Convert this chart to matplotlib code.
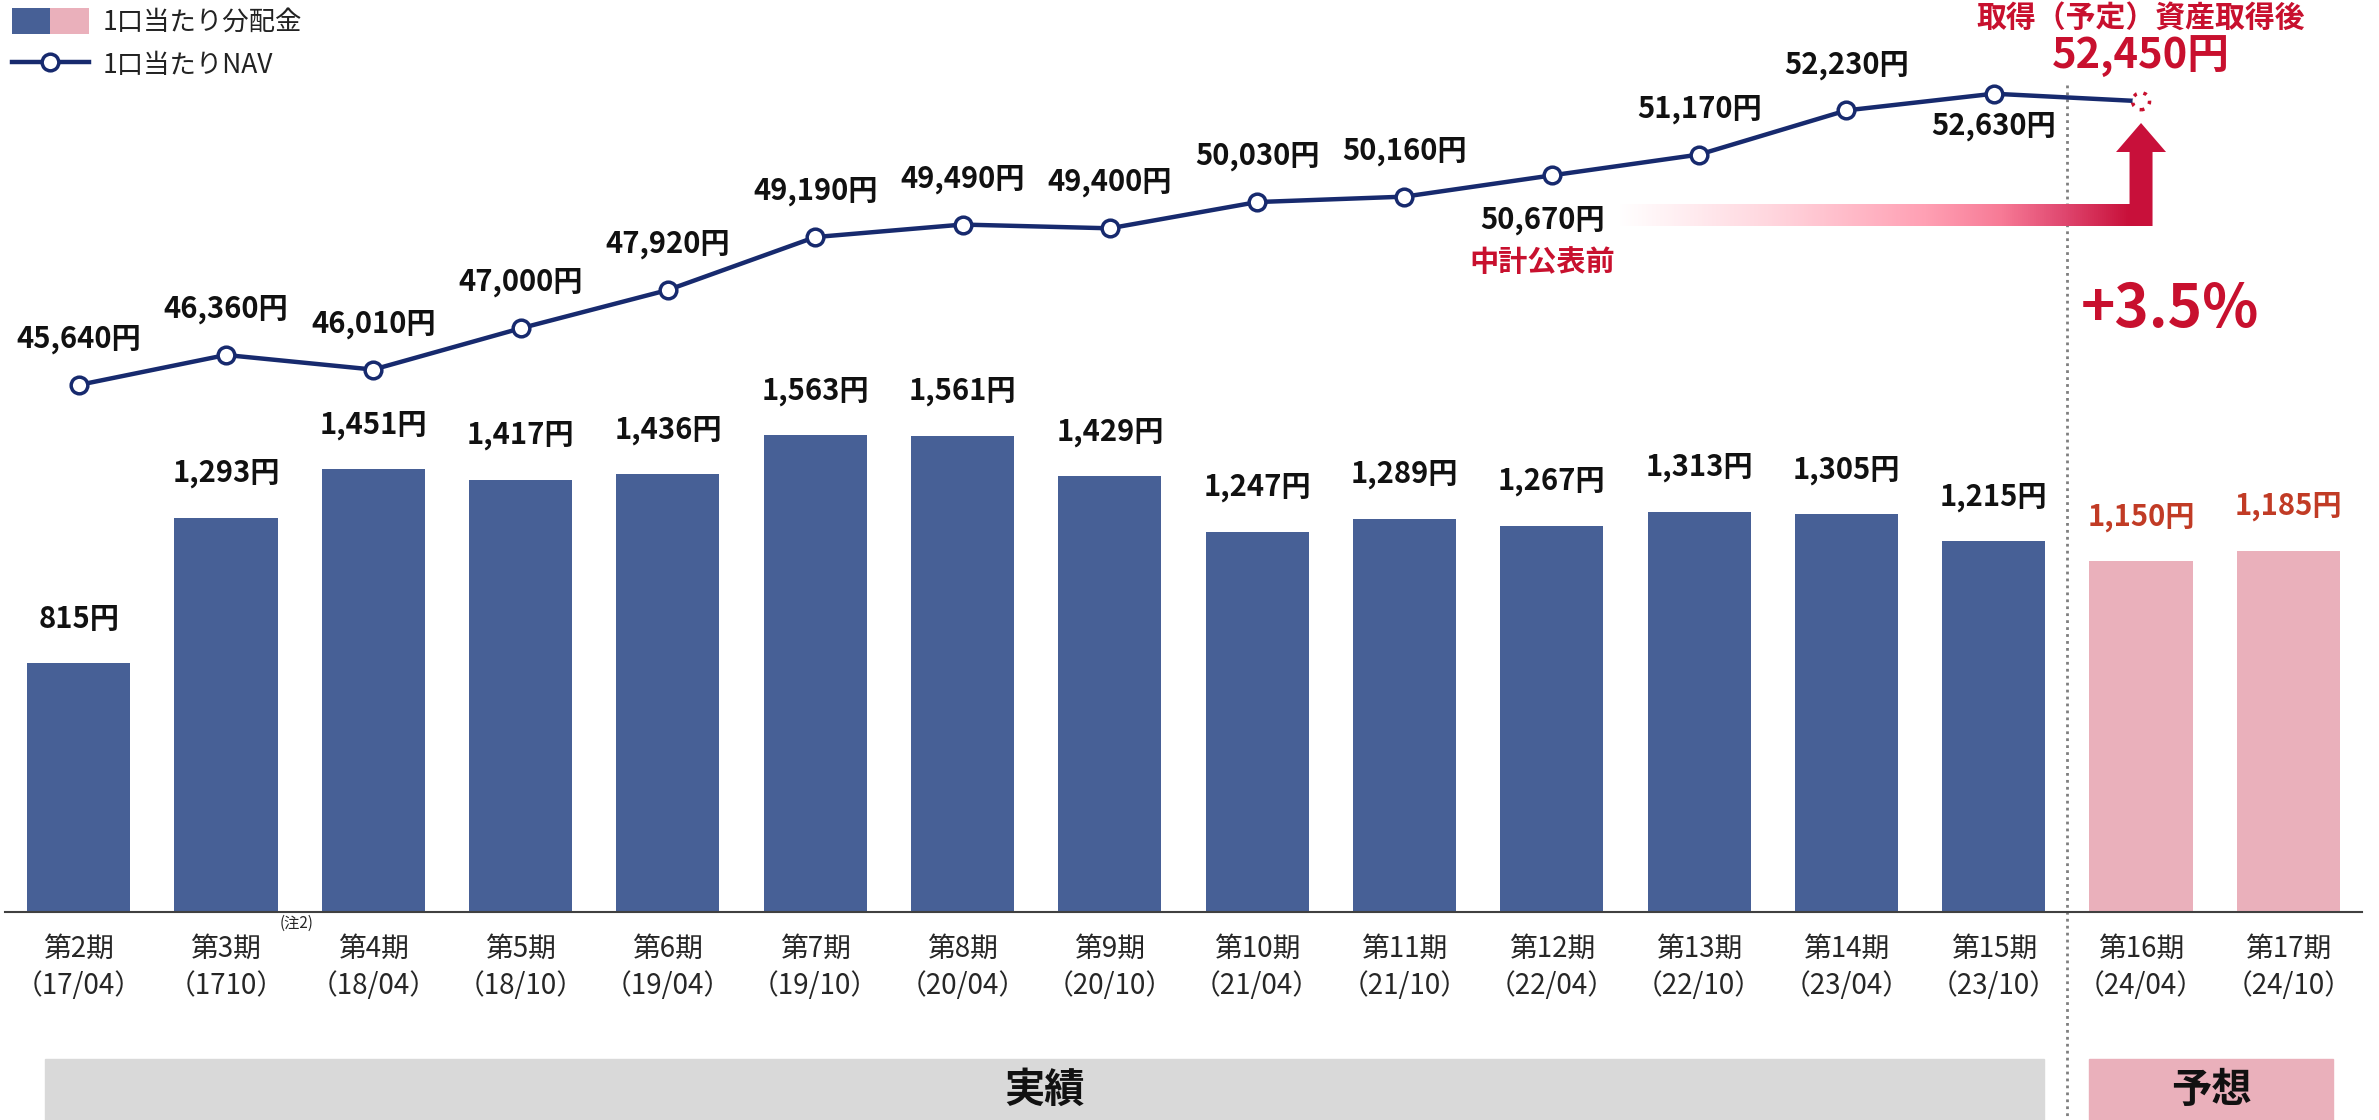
import matplotlib
matplotlib.use('Agg')
import matplotlib.pyplot as plt
import numpy as np
from matplotlib.patches import Patch, Polygon, Rectangle
from matplotlib.lines import Line2D
from matplotlib.legend_handler import HandlerTuple
from matplotlib.colors import LinearSegmentedColormap

plt.rcParams['font.family'] = ['Noto Sans CJK JP', 'DejaVu Sans']

# data
periods = ['第2期', '第3期', '第4期', '第5期', '第6期', '第7期', '第8期', '第9期',
           '第10期', '第11期', '第12期', '第13期', '第14期', '第15期', '第16期', '第17期']
dates = ['（17/04）', '（1710）', '（18/04）', '（18/10）', '（19/04）', '（19/10）', '（20/04）',
         '（20/10）', '（21/04）', '（21/10）', '（22/04）', '（22/10）', '（23/04）', '（23/10）',
         '（24/04）', '（24/10）']
dist = [815, 1293, 1451, 1417, 1436, 1563, 1561, 1429, 1247, 1289, 1267, 1313, 1305, 1215, 1150, 1185]
forecast = [False] * 14 + [True] * 2
nav = [45640, 46360, 46010, 47000, 47920, 49190, 49490, 49400, 50030, 50160,
       50670, 51170, 52230, 52630, 52450]
nav_below = [10, 13]

blue = '#476096'
pink = '#EAB0BB'
navy = '#172A6E'
crimson = '#C8102E'
fc_red = '#C13B25'

W, H = 2379, 1120
fig = plt.figure(figsize=(W / 100, H / 100), dpi=100)
fig.patch.set_facecolor('white')

ax = fig.add_axes([5 / W, 208 / H, 2357 / W, 912 / H])
ax.patch.set_visible(False)
x = np.arange(len(dist))
ax.bar(x, dist, width=0.70, color=[pink if f else blue for f in forecast], zorder=2)
ax.set_xlim(-0.5, len(dist) - 0.5)
ax.set_ylim(0, 2990)
for s in ['top', 'left', 'right']:
    ax.spines[s].set_visible(False)
ax.spines['bottom'].set_color('#404040')
ax.spines['bottom'].set_linewidth(1.5)
ax.set_yticks([])
ax.set_xticks(x, [p + '\n' + d for p, d in zip(periods, dates)], fontsize=20,
              color='#262626', linespacing=1.3)
ax.tick_params(axis='x', length=0, pad=16)

for xi, v, f in zip(x, dist, forecast):
    ax.annotate(f'{v:,}円', (xi, v), xytext=(0, 32), textcoords='offset points',
                ha='center', va='center', fontsize=21, fontweight='bold',
                color=fc_red if f else '#111111')

# superscript note on 第3期
ax.text(1.48, -36, '(注2)', fontsize=11, color='#262626', ha='center', va='center')

# NAV line
ax2 = ax.twinx()
ax2.patch.set_visible(False)
ax2.set_ylim(32993, 54879)
ax2.axis('off')
xn = np.arange(len(nav))
ax2.plot(xn, nav, color=navy, lw=3.2, zorder=3)
ax2.plot(xn[:-1], nav[:-1], ls='none', marker='o', ms=12, mfc='white', mec=navy, mew=2.5, zorder=4)
ax2.scatter(xn[-1:], nav[-1:], s=150, facecolors='white', edgecolors=crimson,
            linewidths=2.5, linestyles=(0, (1, 2)), zorder=4)

for i, v in enumerate(nav[:-1]):
    if i in nav_below:
        off = (-7, -32) if i == 10 else (0, -23)
    else:
        off = (0, 33)
    ax2.annotate(f'{v:,}円', (i, v), xytext=off, textcoords='offset points',
                 ha='center', va='center', fontsize=21, fontweight='bold', color='#111111')

last = len(nav) - 1
ax2.annotate(f'{nav[-1]:,}円', (last, nav[-1]), xytext=(0, 32), textcoords='offset points',
             ha='center', va='center', fontsize=30, fontweight='bold', color=crimson)
ax2.annotate('取得（予定）資産取得後', (last, nav[-1]), xytext=(0, 60), textcoords='offset points',
             ha='center', va='center', fontsize=21.5, fontweight='bold', color=crimson)
ax2.annotate('中計公表前', (10, nav[10]), xytext=(-7, -62), textcoords='offset points',
             ha='center', va='center', fontsize=21, fontweight='bold', color=crimson)
ax2.annotate('+3.5%', (last, nav[-1]), xytext=(21, -150), textcoords='offset points',
             ha='center', va='center', fontsize=42, fontweight='bold', color=crimson)

# overlay in pixel coords (top origin) for arrow, divider and bands
ov = fig.add_axes([0, 0, 1, 1], zorder=-1)


def px(xd):
    return ax.transData.transform((xd, 0))[0]


cmap = LinearSegmentedColormap.from_list('g', [(0, '#FFFFFF'), (0.3, '#FFD6DE'), (0.6, '#FFA0B4'),
                                               (0.75, '#F77A96'), (0.87, '#E04870'), (1, '#C8103A')])
cx = px(last)
ov.imshow(np.linspace(0, 1, 256).reshape(1, -1), cmap=cmap, aspect='auto',
          extent=[px(10.45), cx - 11.5, 226, 204], zorder=2)
ov.add_patch(Polygon([(cx - 11.5, 226), (cx + 11.5, 226), (cx + 11.5, 152), (cx + 25, 152),
                      (cx, 123), (cx - 25, 152), (cx - 11.5, 152)], closed=True,
                     facecolor='#C8103A', edgecolor='none', zorder=3))
ov.plot([px(13.5)] * 2, [85, H], color='#7F7F7F', lw=2, ls=(0, (1, 1.5)), zorder=1)

ov.add_patch(Rectangle((px(-0.23), 1059), px(13.34) - px(-0.23), 61, color='#D9D9D9', zorder=1))
ov.add_patch(Rectangle((px(13.65), 1059), px(15.3) - px(13.65), 61, color=pink, zorder=1))
ov.text((px(-0.23) + px(13.34)) / 2, 1090, '実績', ha='center', va='center',
        fontsize=29, fontweight='bold', color='#111111')
ov.text((px(13.65) + px(15.3)) / 2, 1090, '予想', ha='center', va='center',
        fontsize=29, fontweight='bold', color='#111111')
ov.set_xlim(0, W)
ov.set_ylim(H, 0)
ov.axis('off')

handles = [(Patch(facecolor=blue), Patch(facecolor=pink)),
           Line2D([], [], color=navy, lw=3.2, marker='o', ms=12, mfc='white', mec=navy, mew=2.5)]
fig.legend(handles, ['1口当たり分配金', '1口当たりNAV'],
           handler_map={tuple: HandlerTuple(ndivide=None, pad=0)},
           loc='upper left', bbox_to_anchor=(12 / W, 1 - 8 / H), frameon=False,
           fontsize=19, handlelength=2.9, handleheight=1.14, handletextpad=0.55,
           labelspacing=0.57, borderpad=0, borderaxespad=0, labelcolor='#222222')

fig.savefig('out.png', dpi=100, facecolor='white')
